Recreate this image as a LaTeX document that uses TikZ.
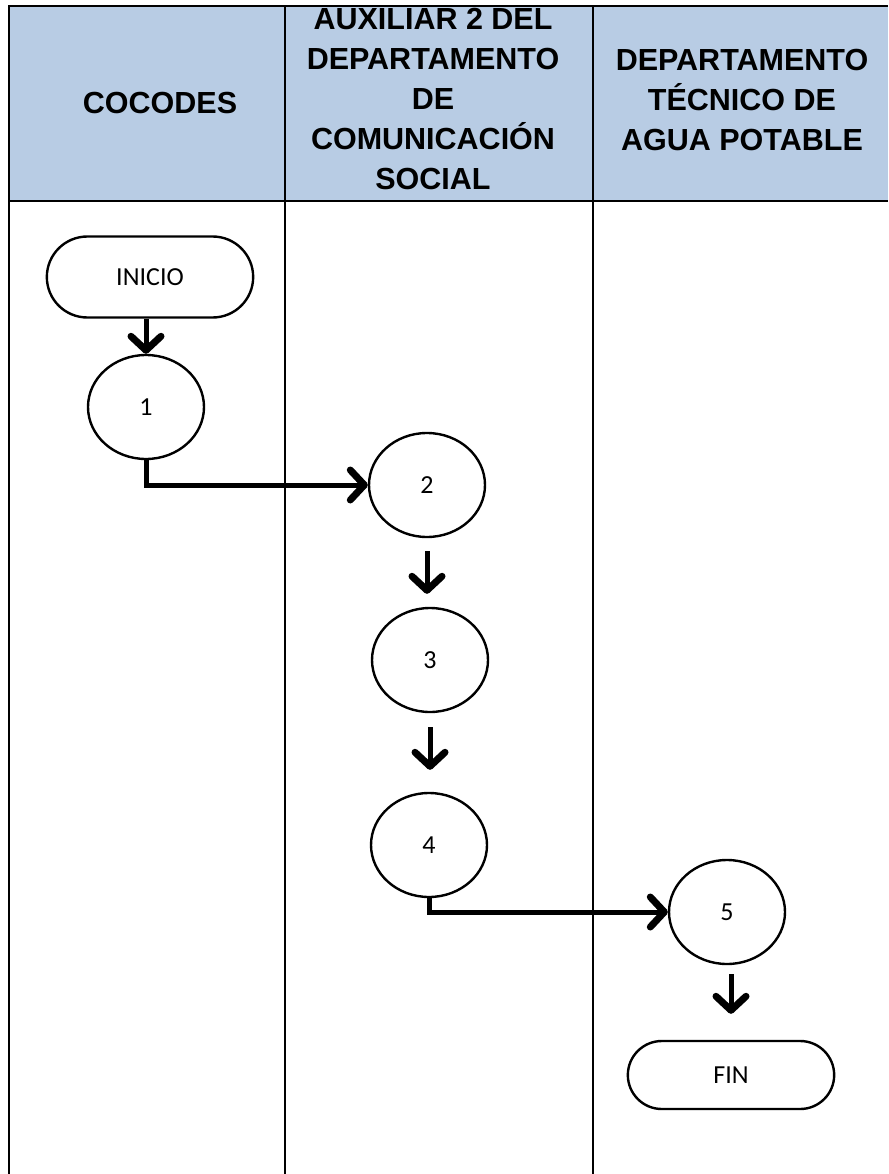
\documentclass[tikz,border=0pt]{standalone}
\usepackage{fontspec}
\setmainfont{Carlito}
\newfontfamily\headfont{Liberation Sans}
\usetikzlibrary{arrows.meta,shapes.geometric,shapes.misc}
\definecolor{headblue}{HTML}{B8CCE4}
\begin{document}
\begin{tikzpicture}[x=1pt,y=-1pt,
  grid/.style={line width=2.6pt},
  headtext/.style={align=center,font=\headfont\bfseries\fontsize{30.5}{40}\selectfont,inner sep=0pt},
  terminal/.style={rounded rectangle,draw,line width=2.4pt,minimum width=213pt,font=\fontsize{26}{30}\selectfont},
  stepnode/.style={ellipse,draw,line width=2.4pt,minimum width=116pt,minimum height=104pt,inner sep=0pt,font=\fontsize{26}{30}\selectfont},
  flow/.style={line width=5pt,-{Straight Barb[length=14pt,width=30pt,line width=7pt,round]}}]
\useasboundingbox (0,0) rectangle (888,1174);

% header band and swimlane grid
\fill[headblue] (9,6) rectangle (888,201);
\draw[grid] (888,6) -- (9,6) -- (9,1174);
\draw[grid] (9,201) -- (888,201);
\draw[grid] (285,6) -- (285,1174);
\draw[grid] (593,6) -- (593,1174);

% lane titles
\node[headtext] (h1) at (160,103) {COCODES};
\node[headtext] (h2) at (433,99) {AUXILIAR 2 DEL\\DEPARTAMENTO\\DE\\COMUNICACIÓN\\SOCIAL};
\node[headtext] (h3) at (742,100) {DEPARTAMENTO\\TÉCNICO DE\\AGUA POTABLE};

% process steps
\node[terminal,minimum height=81pt] (ini) at (150,277) {INICIO};
\node[stepnode] (c1) at (146,407) {1};
\node[stepnode] (c2) at (427,485) {2};
\node[stepnode] (c3) at (430,660) {3};
\node[stepnode] (c4) at (429,845) {4};
\node[stepnode] (c5) at (727,912) {5};
\node[terminal,minimum height=68pt] (fin) at (731,1075) {FIN};

% connectors
\draw[flow] (ini.south -| c1.north) -- (c1.north);
\draw[flow,line cap=butt] (c1.south) |- (c2.west);
\draw[flow,shorten <=13pt,shorten >=13pt] (c2.south) -- (c2.south |- c3.north);
\draw[flow,shorten <=14pt,shorten >=22pt] (c3.south) -- (c3.south |- c4.north);
\draw[flow,line cap=butt] (c4.south) |- (c5.west);
\draw[flow,shorten <=9pt,shorten >=26pt] (c5.south -| fin.north) -- (fin.north);
\end{tikzpicture}
\end{document}
